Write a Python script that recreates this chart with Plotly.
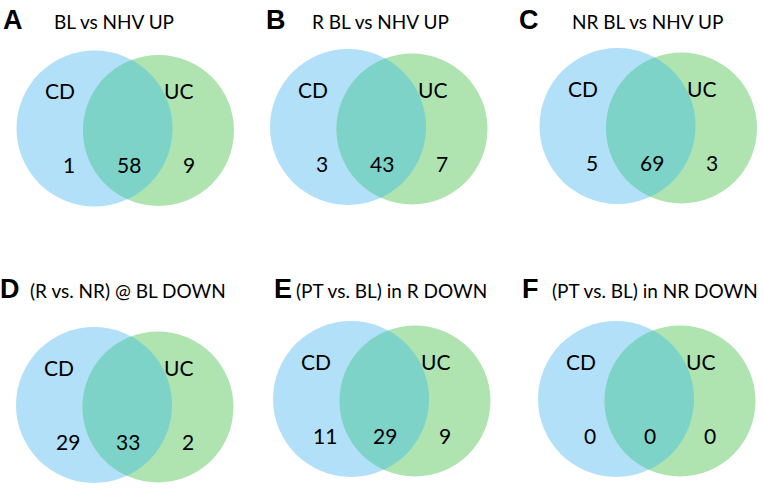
import math
import plotly.graph_objects as go

# ---- data ----
panel_letters = ["A", "B", "C", "D", "E", "F"]
titles = ["BL vs NHV UP", "R BL vs NHV UP", "NR BL vs NHV UP",
          "(R vs. NR) @ BL DOWN", "(PT vs. BL) in R DOWN", "(PT vs. BL) in NR DOWN"]
set_labels = ["CD", "UC"]
cd_only = [1, 3, 5, 29, 11, 0]
both = [58, 43, 69, 33, 29, 0]
uc_only = [9, 7, 3, 2, 9, 0]

# ---- layout (pixel space) ----
W, H = 764, 488
blue_centers = [(94.5, 128.5), (348, 127), (617.5, 126), (94, 405), (351, 399), (616, 399)]
green_offset = (64, 2)
R_BLUE, R_GREEN = 78, 75.5
letter_x = [13, 276, 529, 10, 283, 530]
title_x = [52, 310, 570, 28, 294, 550]
row_title_y = [20, 289]

BLUE = "#b2e0f9"
GREEN = "#afe4b1"
OVERLAP = "#7dd3c7"
FONT = "Lato, 'Open Sans', sans-serif"


def lens_path(c1, r1, c2, r2):
    (x1, y1), (x2, y2) = c1, c2
    d = math.hypot(x2 - x1, y2 - y1)
    a = (r1 ** 2 - r2 ** 2 + d ** 2) / (2 * d)
    h = math.sqrt(r1 ** 2 - a ** 2)
    ux, uy = (x2 - x1) / d, (y2 - y1) / d
    mx, my = x1 + a * ux, y1 + a * uy
    p1 = (mx - h * uy, my + h * ux)
    p2 = (mx + h * uy, my - h * ux)
    pts = []
    n = 60
    a1s = math.atan2(p2[1] - y1, p2[0] - x1)
    a1e = math.atan2(p1[1] - y1, p1[0] - x1)
    if a1e < a1s:
        a1e += 2 * math.pi
    for i in range(n + 1):
        t = a1s + (a1e - a1s) * i / n
        pts.append((x1 + r1 * math.cos(t), y1 + r1 * math.sin(t)))
    a2s = math.atan2(p1[1] - y2, p1[0] - x2)
    a2e = math.atan2(p2[1] - y2, p2[0] - x2)
    if a2e < a2s:
        a2e += 2 * math.pi
    for i in range(n + 1):
        t = a2s + (a2e - a2s) * i / n
        pts.append((x2 + r2 * math.cos(t), y2 + r2 * math.sin(t)))
    return "M " + " L ".join(f"{x:.2f},{y:.2f}" for x, y in pts) + " Z"


fig = go.Figure()
shapes = []
annotations = []

for i in range(6):
    bx, by = blue_centers[i]
    gx, gy = bx + green_offset[0], by + green_offset[1]
    shapes.append(dict(type="circle", xref="x", yref="y", x0=bx - R_BLUE, x1=bx + R_BLUE,
                       y0=by - R_BLUE, y1=by + R_BLUE, fillcolor=BLUE, line_width=0, layer="below"))
    shapes.append(dict(type="circle", xref="x", yref="y", x0=gx - R_GREEN, x1=gx + R_GREEN,
                       y0=gy - R_GREEN, y1=gy + R_GREEN, fillcolor=GREEN, line_width=0, layer="below"))
    shapes.append(dict(type="path", xref="x", yref="y",
                       path=lens_path((bx, by), R_BLUE, (gx, gy), R_GREEN),
                       fillcolor=OVERLAP, line_width=0, layer="below"))

    ty = row_title_y[i // 3]
    annotations.append(dict(x=letter_x[i], y=ty, text=f"<b>{panel_letters[i]}</b>", showarrow=False,
                            xanchor="center", yanchor="middle",
                            font=dict(family="Liberation Sans, Arial, sans-serif", size=27, color="black")))
    annotations.append(dict(x=title_x[i], y=ty + 1, text=titles[i], showarrow=False,
                            xanchor="left", yanchor="middle",
                            font=dict(family=FONT, size=19, color="black")))
    lab_y = by - 38
    annotations.append(dict(x=bx - 35, y=lab_y, text=set_labels[0], showarrow=False,
                            xanchor="center", yanchor="middle", font=dict(family=FONT, size=21, color="black")))
    annotations.append(dict(x=bx + 84, y=lab_y, text=set_labels[1], showarrow=False,
                            xanchor="center", yanchor="middle", font=dict(family=FONT, size=21, color="black")))
    num_y = by + 36
    for dx, val in [(-26, cd_only[i]), (34, both[i]), (94, uc_only[i])]:
        annotations.append(dict(x=bx + dx, y=num_y, text=str(val), showarrow=False,
                                xanchor="center", yanchor="middle",
                                font=dict(family=FONT, size=21, color="black")))

fig.update_layout(
    width=W, height=H,
    margin=dict(l=0, r=0, t=0, b=0),
    paper_bgcolor="white", plot_bgcolor="white",
    xaxis=dict(range=[0, W], visible=False, fixedrange=True),
    yaxis=dict(range=[H, 0], visible=False, fixedrange=True),
    shapes=shapes, annotations=annotations, showlegend=False,
)

html = fig.to_html(full_html=True, include_plotlyjs=True, config={"displayModeBar": False})
html = html.replace("<body>", '<body style="margin:0;padding:0;overflow:hidden">', 1)
with open("out.html", "w", encoding="utf-8") as f:
    f.write(html)
